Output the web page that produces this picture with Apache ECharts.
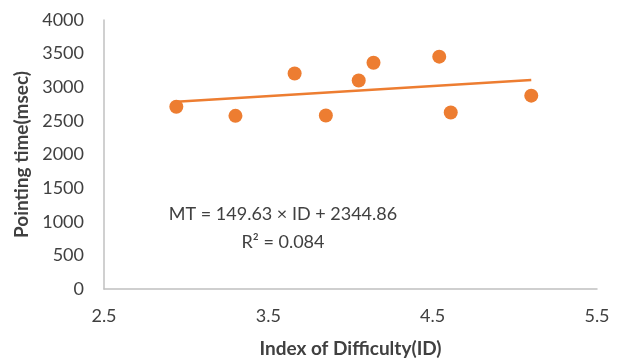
<!DOCTYPE html>
<html>
<head>
  <meta charset="utf-8" />
  <title>Pointing time vs ID</title>
  <style>
    html, body { margin: 0; padding: 0; background: #fff; }
    #chart { width: 626px; height: 363px; }
  </style>
</head>
<body>
  <div id="chart"></div>
  <script src="https://cdn.jsdelivr.net/npm/echarts@6/dist/echarts.min.js"></script>
  <script>
    // measured points (ID, time in msec)
    var idValues = [2.94, 3.30, 3.66, 3.85, 4.05, 4.14, 4.54, 4.61, 5.10];
    var timeValues = [2710, 2575, 3205, 2580, 3100, 3365, 3455, 2625, 2875];

    // regression shown on the chart
    var slope = 149.63;
    var intercept = 2344.86;
    var trendX = [2.94, 5.10];
    var eqText = ['MT = 149.63 × ID + 2344.86', 'R² = 0.084'];

    var xTicks = [2.5, 3.5, 4.5, 5.5];

    var orange = '#ED7D31';
    var font = 'Lato, "Open Sans", sans-serif';

    var points = [];
    for (var i = 0; i < idValues.length; i++) {
      points.push([idValues[i], timeValues[i]]);
    }
    var trend = trendX.map(function (x) { return [x, slope * x + intercept]; });

    var myChart = echarts.init(document.getElementById('chart'));
    var option = {
      animation: false,
      grid: { left: 104, right: 29, top: 20, bottom: 70 },
      xAxis: {
        type: 'value',
        min: xTicks[0],
        max: xTicks[xTicks.length - 1],
        interval: 1,
        name: 'Index of Difficulty(ID)',
        nameLocation: 'middle',
        nameGap: 50,
        nameTextStyle: { fontFamily: font, fontSize: 19, fontWeight: 'bold', color: '#404040' },
        axisLine: { show: true, lineStyle: { color: '#c0c0c0', width: 1.5 } },
        axisTick: { show: false },
        splitLine: { show: false },
        axisLabel: { fontFamily: font, fontSize: 18, color: '#404040', margin: 18,
          formatter: function (v) { return v.toFixed(1); } }
      },
      yAxis: {
        type: 'value',
        min: 0,
        max: 4000,
        interval: 500,
        name: 'Pointing time(msec)',
        nameLocation: 'middle',
        nameGap: 71,
        nameTextStyle: { fontFamily: font, fontSize: 19, fontWeight: 'bold', color: '#404040' },
        axisLine: { show: true, lineStyle: { color: '#c0c0c0', width: 1.5 } },
        axisTick: { show: false },
        splitLine: { show: false },
        axisLabel: { fontFamily: font, fontSize: 18, color: '#404040', margin: 20,
          formatter: function (v) { return String(v); } }
      },
      graphic: [
        {
          type: 'text',
          x: 283, y: 200,
          style: {
            text: eqText.join('\n'),
            textAlign: 'center',
            fill: '#404040',
            font: '18px ' + font,
            lineHeight: 28
          }
        }
      ],
      series: [
        {
          type: 'line',
          data: trend,
          symbol: 'none',
          lineStyle: { color: orange, width: 2.5 },
          z: 2
        },
        {
          type: 'scatter',
          data: points,
          symbolSize: 14,
          itemStyle: { color: orange, opacity: 1 },
          z: 3
        }
      ]
    };
    myChart.setOption(option);
  </script>
</body>
</html>
